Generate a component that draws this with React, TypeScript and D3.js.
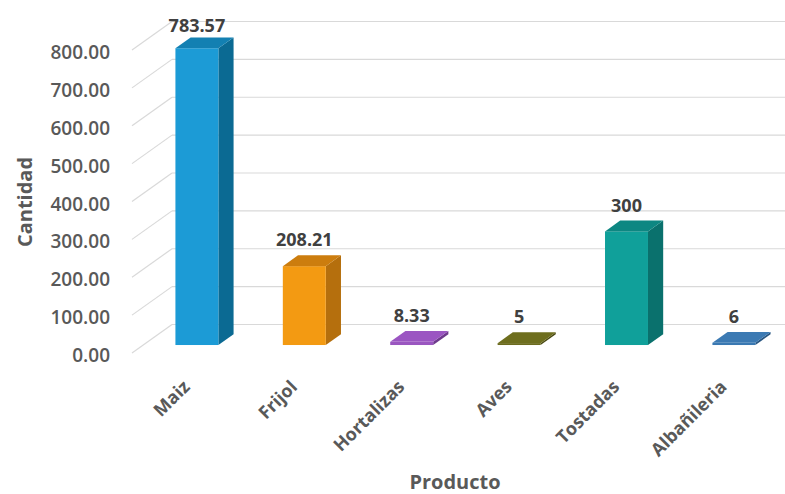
import React from "react";
import * as d3 from "d3";

const categories = ["Maiz", "Frijol", "Hortalizas", "Aves", "Tostadas", "Albañileria"];
const values = [783.57, 208.21, 8.33, 5, 300, 6];
const yTicks = [0, 100, 200, 300, 400, 500, 600, 700, 800];
const frontColors = ["#1c9bd6", "#f39a12", "#9a56c0", "#6c6b1e", "#10a09a", "#3a79b2"];
const sideColors = ["#0b6a93", "#b56f0d", "#6e3a8c", "#4a4a12", "#0a716d", "#285682"];
const topColors = ["#1380b2", "#cc7d0e", "#9b55c2", "#6e6e1e", "#0d8782", "#3c7ab3"];

const W = 785;
const H = 494;
const DX = 40; // full depth offset
const DY = 28.5;
const D0 = 0.28; // bar front depth
const D1 = 0.66; // bar back depth

export default function App() {
  const x = d3
    .scaleBand<string>()
    .domain(categories)
    .range([132, 776.4])
    .paddingInner(0.6)
    .paddingOuter(0.3);
  const y = d3.scaleLinear().domain([0, 800]).range([353, 50]);
  const fmt = d3.format(".2f");
  const grey = "#595959";
  const font = "'Open Sans', sans-serif";
  const bw = x.bandwidth();
  const ddx = (D1 - D0) * DX;
  const ddy = (D1 - D0) * DY;

  return (
    <svg width={W} height={H} style={{ position: "absolute", left: 0, top: 0, background: "#fff" }}>
      {/* side wall + back wall gridlines */}
      {yTicks.map((t) => (
        <g key={t} stroke="#d9d9d9" strokeWidth={1.2} fill="none">
          <line x1={132} y1={y(t)} x2={132 + DX} y2={y(t) - DY} />
          <line x1={132 + DX} y1={y(t) - DY} x2={W} y2={y(t) - DY} />
        </g>
      ))}
      {/* y tick labels */}
      {yTicks.map((t) => (
        <text
          key={"l" + t}
          x={110}
          y={y(t) + 2}
          textAnchor="end"
          dominantBaseline="central"
          fontFamily={font}
          fontWeight={600}
          fontSize={19}
          fill={grey}
        >
          {fmt(t)}
        </text>
      ))}
      {/* bars */}
      {categories.map((c, i) => {
        const v = values[i];
        const x0 = (x(c) as number) + D0 * DX;
        const x1 = x0 + bw;
        const yTop = y(v) - D0 * DY;
        const yBot = y(0) - D0 * DY;
        return (
          <g key={c}>
            <polygon
              points={`${x1},${yTop} ${x1 + ddx},${yTop - ddy} ${x1 + ddx},${yBot - ddy} ${x1},${yBot}`}
              fill={sideColors[i]}
            />
            <rect x={x0} y={yTop} width={bw} height={yBot - yTop} fill={frontColors[i]} />
            <polygon
              points={`${x0},${yTop} ${x1},${yTop} ${x1 + ddx},${yTop - ddy} ${x0 + ddx},${yTop - ddy}`}
              fill={topColors[i]}
            />
            <text
              x={x0 + bw / 2}
              y={Math.max(yTop - ddy - 9, 32)}
              textAnchor="middle"
              fontFamily={font}
              fontWeight={700}
              fontSize={18}
              fill="#404040"
            >
              {String(v)}
            </text>
          </g>
        );
      })}
      {/* x labels */}
      {categories.map((c) => {
        const ax = (x(c) as number) + D0 * DX + bw / 2 - 6;
        const ay = 388;
        return (
          <text
            key={"x" + c}
            x={ax}
            y={ay}
            transform={`rotate(-45 ${ax} ${ay})`}
            textAnchor="end"
            fontFamily={font}
            fontWeight={700}
            fontSize={18}
            fill={grey}
          >
            {c}
          </text>
        );
      })}
      {/* axis titles */}
      <text
        transform={`translate(32 202) rotate(-90)`}
        textAnchor="middle"
        fontFamily={font}
        fontWeight={700}
        fontSize={20}
        fill={grey}
      >
        Cantidad
      </text>
      <text x={455} y={489} textAnchor="middle" fontFamily={font} fontWeight={700} fontSize={20} fill={grey}>
        Producto
      </text>
    </svg>
  );
}
